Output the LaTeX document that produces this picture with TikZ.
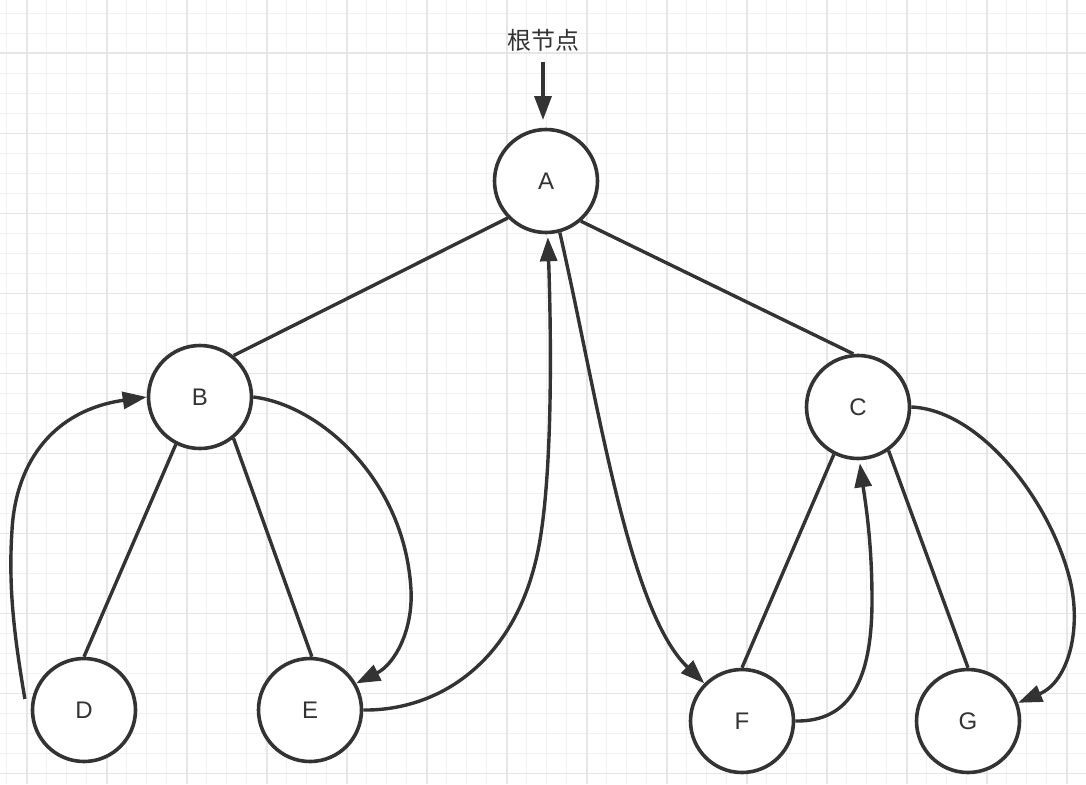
\documentclass[tikz,border=0pt]{standalone}
\usepackage{fontspec}
\setmainfont{Liberation Sans}
\newfontfamily\cjk{Noto Sans CJK SC}
\usetikzlibrary{arrows.meta}
\definecolor{ink}{HTML}{333333}
\definecolor{gridminor}{HTML}{F1F1F1}
\definecolor{gridmajor}{HTML}{E6E6E6}
\begin{document}
\begin{tikzpicture}[x=1pt,y=-1pt,
  vertex/.style={circle,draw=ink,line width=3.6pt,fill=white,minimum size=103pt,inner sep=0pt,
    font=\fontsize{24}{28}\selectfont,text=ink},
  edgeline/.style={draw=ink,line width=3.4pt},
  arr/.style={draw=ink,line width=3.4pt,-{Triangle[length=24pt,width=17pt]}},
  lbl/.style={font=\cjk\fontsize{24}{28}\selectfont,text=ink,inner sep=0pt}
]
\useasboundingbox (0,0) rectangle (1086,784);
\fill[white] (0,0) rectangle (1086,784);
% grid
\foreach \i in {0,...,54} \draw[gridminor,line width=1.4pt] ({6.7+20*\i},0) -- ({6.7+20*\i},784);
\foreach \i in {0,...,38} \draw[gridminor,line width=1.4pt] (0,{13.3+20*\i}) -- (1086,{13.3+20*\i});
\foreach \i in {0,...,13} \draw[gridmajor,line width=1.6pt] ({26.7+80*\i},0) -- ({26.7+80*\i},784);
\foreach \i in {0,...,9} \draw[gridmajor,line width=1.6pt] (0,{53.3+80*\i}) -- (1086,{53.3+80*\i});

% nodes
\node[vertex] (A) at (546,181) {A};
\node[vertex] (B) at (200,397) {B};
\node[vertex] (C) at (858,407) {C};
\node[vertex] (D) at (84,710) {D};
\node[vertex] (E) at (310,710) {E};
\node[vertex] (F) at (742,721) {F};
\node[vertex] (G) at (968,721) {G};
\node[lbl] (root) at (543,40) {根节点};

% root arrow
\coordinate (rs) at (543,62);
\coordinate (re) at (543,120);
\draw[arr] (rs) -- (re);

% tree edges
\draw[edgeline] (A.224) -- (B.51);
\draw[edgeline] (A.-49) -- (C.95);
\draw[edgeline] (B.243) -- (D.north);
\draw[edgeline] (B.-51) -- (E.88);
\draw[edgeline] (C.243) -- (F.north);
\draw[edgeline] (C.-55) -- (G.north);

% traversal arrows
\draw[arr] ([xshift=-7pt]D.168) .. controls (15,640) and (8,590) .. (12,530)
  .. controls (16,460) and (55,410) .. (B.west);
\draw[arr] (B.east) .. controls (320,405) and (405,480) .. (411,590)
  .. controls (413,630) and (395,664) .. (E.30);
\draw[arr] (E.east) .. controls (440,711) and (520,660) .. (540,540)
  .. controls (553,462) and (551,330) .. ([yshift=-3pt]A.-88);
\draw[arr] (A.-75) .. controls (598,400) and (628,610) .. (F.135);
\draw[arr] (F.east) .. controls (850,722) and (872,680) .. (872,600)
  .. controls (872,540) and (865,500) .. ([yshift=-3pt]C.-88);
\draw[arr] (C.east) .. controls (980,410) and (1050,500) .. (1070,580)
  .. controls (1082,630) and (1068,682) .. (G.20);
\end{tikzpicture}
\end{document}
